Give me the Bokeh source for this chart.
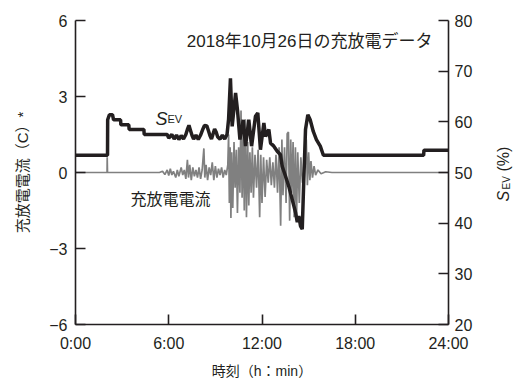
import math
from bokeh.plotting import figure
from bokeh.layouts import row
from bokeh.models import Range1d, LinearAxis, FixedTicker, Label
from bokeh.embed import file_html
from bokeh.resources import INLINE

# ---------------- data ----------------
x_ticks = [0, 6, 12, 18, 24]
x_tick_labels = ["0:00", "6:00", "12:00", "18:00", "24:00"]
left_ticks = [-6, -3, 0, 3, 6]
left_tick_labels = ["\u22126", "\u22123", "0", "3", "6"]
right_ticks = [20, 30, 40, 50, 60, 70, 80]

# state of charge S_EV (%) vs time (h)
ev_hours = [0.0, 2.06, 2.07, 2.18, 2.38, 2.45, 2.9, 2.92, 3.43, 3.45, 4.4, 4.42,
            5.9, 6.0, 6.2, 6.35, 6.5, 6.65, 6.8, 6.95, 7.1, 7.2, 7.3, 7.4, 7.5,
            7.6, 7.75, 7.9, 8.05, 8.2, 8.3, 8.45, 8.55, 8.65, 8.75, 8.85, 8.95,
            9.05, 9.15, 9.3, 9.45, 9.6, 9.75, 9.85, 9.97, 10.08, 10.3, 10.42,
            10.58, 10.79, 10.94, 11.15, 11.33, 11.58, 11.73, 11.9, 12.12, 12.23,
            12.44, 12.55, 12.76, 12.98, 13.19, 13.3, 13.51, 13.73, 13.94, 14.16,
            14.27, 14.37, 14.48, 14.59, 14.69, 14.8, 14.95, 15.1, 15.3, 15.5,
            15.75, 15.95, 22.4, 22.42, 24.0]
ev_soc = [53.4, 53.4, 60.4, 61.4, 61.4, 60.4, 60.4, 59.4, 59.4, 58.5, 58.5, 57.5,
          57.5, 56.8, 57.5, 56.6, 57.4, 56.5, 57.3, 56.6, 57.5, 58.5, 59.3, 58.3, 57.3,
          56.6, 57.4, 56.5, 57.4, 58.6, 59.3, 59.2, 58.3, 57.3, 56.6, 57.6, 58.6,
          58.0, 57.0, 56.6, 57.4, 56.6, 57.5, 60.5, 68.6, 59.1, 65.7, 62.4,
          56.5, 60.4, 55.2, 60.4, 55.2, 61.1, 61.75, 54.5, 59.8, 57.1,
          58.5, 55.8, 55.2, 54.2, 53.5, 51.2, 49.3, 47.2, 44.7, 42.1,
          40.2, 41.4, 39.4, 38.8, 48.6, 58.5, 61.4, 60.4, 58.1, 56.5,
          55.2, 53.4, 53.4, 54.4, 54.4]

# charge/discharge current (C) vs time (h)
cur_hours = [0.0, 2.03, 2.04, 2.06, 5.4, 5.6, 5.75, 5.9, 6.0, 6.1, 6.2, 6.3, 6.45,
             6.55, 6.65, 6.8, 6.9, 7.0, 7.1, 7.2, 7.27, 7.35, 7.45, 7.55, 7.65,
             7.75, 7.85, 7.95, 8.05, 8.15, 8.26, 8.32, 8.4, 8.5, 8.6, 8.7, 8.8,
             8.9, 9.0, 9.1, 9.2, 9.3, 9.4, 9.5, 9.6, 9.7, 9.8, 9.85, 9.9, 9.95,
             10.0, 10.05, 10.12, 10.2, 10.27, 10.35, 10.42, 10.5, 10.58, 10.65,
             10.72, 10.8, 10.86, 10.93, 11.0, 11.08, 11.15, 11.22, 11.3, 11.38,
             11.45, 11.55, 11.65, 11.75, 11.85, 11.92, 12.0, 12.1, 12.2, 12.3,
             12.4, 12.5, 12.6, 12.7, 12.8, 12.9, 13.0, 13.1, 13.2, 13.28, 13.35,
             13.45, 13.55, 13.62, 13.7, 13.78, 13.85, 13.92, 14.0, 14.07, 14.15,
             14.22, 14.3, 14.4, 14.5, 14.6, 14.75, 14.85, 14.92, 15.0, 15.08,
             15.15, 15.25, 15.35, 15.45, 15.6, 15.8, 16.1, 16.5, 24.0]
cur_c = [0.0, 0.0, 0.6, 0.0, 0.0, 0.05, -0.08, 0.1, -0.12, 0.15, -0.1, 0.05, -0.2,
         0.1, -0.15, 0.2, -0.1, 0.1, -0.25, 0.5, -0.2, 0.3, -0.3, 0.2, -0.15,
         0.1, -0.2, 0.2, -0.25, 0.1, 0.95, -0.2, 0.3, -0.3, 0.2, -0.1, 0.4,
         -0.3, 0.25, -0.2, 0.15, -0.1, 0.2, -0.2, 0.1, -0.1, 0.3, 1.5, -1.2, 1.0,
         -1.8, 0.8, -1.4, 1.2, -0.6, 0.9, -1.6, 1.0, -0.8, 2.45,
         -1.0, 1.7, -1.5, 2.1, -1.77, 1.2, -1.3, 0.8, -0.8, 1.0,
         -1.0, 0.7, -0.6, 0.9, -1.77, 0.7, -1.2, 0.6, -0.97, 0.5,
         -0.4, 0.6, -0.5, 0.4, -0.6, 0.7, -0.8, 1.0, -2.1, 1.3, -0.9,
         1.0, -1.2, 1.53, 1.6, -1.9, 1.3, -0.8, 1.2, -1.77, 1.0,
         -1.9, 0.8, -1.2, 0.6, -0.4, 0.3, 1.3, -0.5, 0.8, -0.3,
         0.45, -0.2, 0.25, -0.1, 0.1, -0.05, 0.03, 0.0, 0.0]

# ---------------- styling ----------------
INK = "#231f20"
GRAY = "#808080"
NUM_FONT = "Liberation Sans, Noto Sans CJK JP"
JP_FONT = "Noto Sans CJK JP"

W, H = 513, 381
SIDE_W = 28                 # narrow strip at the right for the S_EV(%) title
MAIN_W = W - SIDE_W
FL, FR, FT, FB = 75, 448, 20, 324   # frame edges on the page

p = figure(width=MAIN_W, height=H, x_range=Range1d(0, 24), y_range=Range1d(-6, 6),
           output_backend="svg", toolbar_location=None,
           min_border_left=FL, min_border_right=MAIN_W - FR, min_border_top=FT,
           min_border_bottom=H - FB)
p.extra_y_ranges = {"sev": Range1d(20, 80)}
p.grid.visible = False
p.outline_line_color = None
p.background_fill_color = "white"
p.border_fill_color = "white"

p.line(cur_hours, cur_c, line_color=GRAY, line_width=1.7)
p.line(ev_hours, ev_soc, y_range_name="sev", line_color=INK, line_width=3.5)

right = LinearAxis(y_range_name="sev")
p.add_layout(right, "right")

p.xaxis.ticker = FixedTicker(ticks=x_ticks)
p.xaxis.major_label_overrides = dict(zip(x_ticks, x_tick_labels))
p.yaxis[0].ticker = FixedTicker(ticks=left_ticks)
p.yaxis[0].major_label_overrides = dict(zip(left_ticks, left_tick_labels))
right.ticker = FixedTicker(ticks=right_ticks)

for ax in [p.xaxis[0], p.yaxis[0], right]:
    ax.axis_line_color = INK
    ax.axis_line_width = 1.6
    ax.major_tick_line_color = INK
    ax.major_tick_line_width = 1.6
    ax.major_tick_in = 10
    ax.major_tick_out = 0
    ax.minor_tick_line_color = None
    ax.major_label_text_font = NUM_FONT
    ax.major_label_text_font_size = "16px"
    ax.major_label_text_color = INK
    ax.axis_label_text_font = NUM_FONT
    ax.axis_label_text_font_style = "normal"
    ax.axis_label_text_font_size = "15px"
    ax.axis_label_text_color = INK
p.xaxis[0].major_label_standoff = 10
p.yaxis[0].major_label_standoff = 8
right.major_label_standoff = 6

p.yaxis[0].axis_label = "充放電電流（C）*"
p.yaxis[0].axis_label_standoff = 15
p.xaxis[0].axis_label = "時刻（h：min）"
p.xaxis[0].axis_label_text_font_size = "14px"
p.xaxis[0].axis_label_standoff = 8


def lab(fig, ox, oy, txt, px, py, size, font=NUM_FONT, align="left",
        baseline="alphabetic", angle=0.0, style="normal"):
    # px, py: page position; Label screen units are relative to the frame
    fig.add_layout(Label(x=px - ox, y=oy - py, x_units="screen", y_units="screen",
                         text=txt, text_font=font, text_font_size=size,
                         text_color=INK, text_align=align, text_baseline=baseline,
                         angle=angle, text_font_style=style))


# title inside the plot
lab(p, FL, FB, "2018年10月26日の充放電データ", 432, 41, "17px", align="right")
# series labels
lab(p, FL, FB, "S", 155, 118, "18px", style="italic")
lab(p, FL, FB, "EV", 167, 118.5, "11px")
lab(p, FL, FB, "充放電電流", 130, 197, "16px", font=JP_FONT, baseline="middle")

# right-hand strip carrying the rotated S_EV(%) axis title
side = figure(width=SIDE_W, height=H, x_range=Range1d(0, 1), y_range=Range1d(0, 1),
              output_backend="svg", toolbar_location=None, min_border=0,
              title=None)
side.axis.visible = False
side.grid.visible = False
side.outline_line_color = None
side.background_fill_color = "white"
side.border_fill_color = "white"
# the strip's frame is aligned with the main frame vertically (bottom at FB)
lab(side, MAIN_W, FB, "S", 503, 201, "16px", angle=math.pi / 2, style="italic")
lab(side, MAIN_W, FB, "EV", 506, 189, "10px", angle=math.pi / 2)
lab(side, MAIN_W, FB, "(%)", 503, 171, "16px", angle=math.pi / 2)

layout = row(p, side, spacing=0)
open("out.html", "w").write(file_html(layout, INLINE))
